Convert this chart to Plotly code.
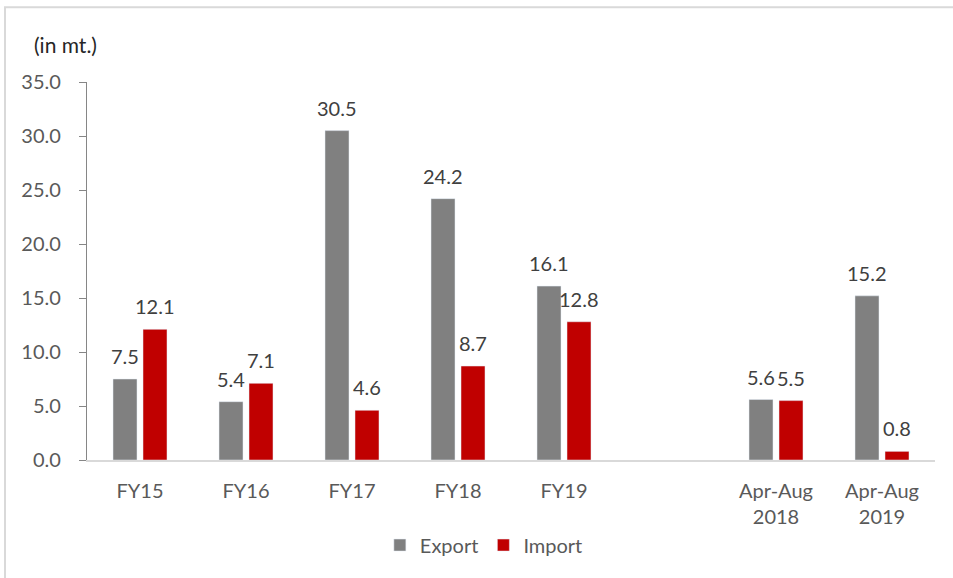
import plotly.graph_objects as go

categories = ["FY15", "FY16", "FY17", "FY18", "FY19", " ", "Apr-Aug<br>2018", "Apr-Aug<br>2019"]
export_vals = [7.5, 5.4, 30.5, 24.2, 16.1, None, 5.6, 15.2]
import_vals = [12.1, 7.1, 4.6, 8.7, 12.8, None, 5.5, 0.8]
y_ticks = [0, 5, 10, 15, 20, 25, 30, 35]
y_tick_labels = [f"{v:.1f}" for v in y_ticks]

FONT = "Lato, 'Open Sans', sans-serif"
EXPORT_COLOR = "#808080"
IMPORT_COLOR = "#c00000"

fig = go.Figure()
fig.add_trace(go.Bar(name="Export", x=categories, y=export_vals, marker_color=EXPORT_COLOR))
fig.add_trace(go.Bar(name="Import", x=categories, y=import_vals, marker_color=IMPORT_COLOR))

annotations = []
for vals, shift in ((export_vals, -15), (import_vals, 15)):
    for c, v in zip(categories, vals):
        if v is None:
            continue
        annotations.append(dict(
            x=c, y=v, xref="x", yref="y", text=f"{v:.1f}", showarrow=False,
            xshift=shift, yshift=9, yanchor="bottom",
            font=dict(family=FONT, size=20, color="#404040"),
        ))

annotations.append(dict(
    x=-0.065, y=1.1, xref="paper", yref="paper", text="(in mt.)",
    showarrow=False, xanchor="left", yanchor="middle",
    font=dict(family=FONT, size=21, color="#262626"),
))

fig.update_layout(
    width=953, height=578,
    margin=dict(l=87, r=18, t=82, b=118),
    paper_bgcolor="white", plot_bgcolor="white",
    barmode="group", bargap=0.434, bargroupgap=0.2,
    font=dict(family=FONT, size=20, color="#595959"),
    annotations=annotations,
    showlegend=True,
    legend=dict(orientation="h", x=0.468, xanchor="center", y=-0.225, yanchor="middle",
                font=dict(family=FONT, size=20, color="#595959"), itemwidth=30,
                traceorder="normal"),
    shapes=[dict(type="rect", xref="paper", yref="paper",
                 x0=-0.0967, x1=1.04, y0=-0.36, y1=1.198,
                 line=dict(color="#d9d9d9", width=2), layer="below")],
)

fig.update_xaxes(
    type="category", categoryorder="array", categoryarray=categories,
    showline=True, linecolor="#d9d9d9", linewidth=2, ticks="", showgrid=False,
    ticklabelstandoff=12,
    tickfont=dict(family=FONT, size=20, color="#595959"),
)
fig.update_yaxes(
    range=[0, 35], tickvals=y_ticks, ticktext=y_tick_labels,
    showline=True, linecolor="#868686", linewidth=1.3, ticks="outside", ticklen=7,
    tickcolor="#868686", tickwidth=1.3, showgrid=False, zeroline=False,
    ticklabelstandoff=14,
    tickfont=dict(family=FONT, size=20, color="#595959"),
)

fig.write_html("out.html")
